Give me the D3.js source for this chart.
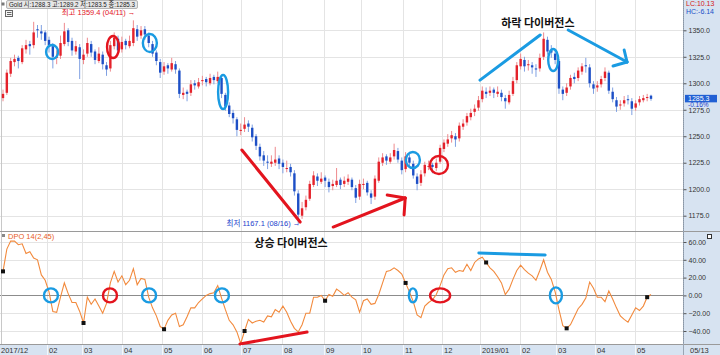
<!DOCTYPE html>
<html>
<head>
<meta charset="utf-8">
<script src="https://cdn.jsdelivr.net/npm/d3@7"></script>
<style>
  body { margin: 0; background: #fff; }
  svg { display: block; font-family: "Liberation Sans", "Noto Sans CJK KR", sans-serif; }
</style>
</head>
<body>
<div id="chart"></div>
<script>
// Gold, roughly two trading days per candle, Dec 2017 .. May 13 2019
const opens = [
  1286,1291,1309,1320,1324,1320,1332,1337,1336,1351,
  1349,1348,1341,1335,1324,1326,1337,1350,1340,1330,
  1334,1322,1328,1337,1330,1321,1327,1317,1314,1335,
  1342,1332,1340,1335,1338,1351,1345,1351,1345,1337,
  1329,1320,1311,1317,1313,1318,1312,1289,1292,1291,
  1300,1297,1302,1304,1300,1306,1302,1305,1289,1279,
  1272,1266,1255,1257,1262,1258,1250,1240,1232,1226,
  1224,1225,1229,1225,1220,1221,1215,1196,1175,1183,
  1191,1204,1212,1207,1211,1207,1203,1204,1209,1205,
  1207,1209,1201,1193,1204,1206,1196,1193,1208,1225,
  1231,1226,1231,1236,1227,1219,1230,1224,1212,1206,
  1215,1222,1223,1220,1226,1238,1243,1248,1250,1248,
  1259,1263,1268,1273,1277,1285,1292,1291,1294,1290,
  1291,1286,1282,1290,1303,1316,1322,1317,1317,1314,
  1314,1325,1341,1331,1328,1321,1294,1291,1297,1306,
  1305,1311,1317,1315,1299,1296,1299,1305,1310,1292,
  1284,1279,1281,1285,1283,1277,1282,1284,1287,1288.3
];
const highs = [
  1294,1313,1324,1327,1326,1336,1341,1340,1358,1355,
  1355,1350,1344,1338,1331,1345,1357,1352,1343,1340,
  1337,1332,1343,1340,1332,1334,1330,1320,1340,1348,
  1345,1344,1342,1345,1359.4,1355,1354,1354,1348,1340,
  1331,1323,1320,1319,1324,1321,1314,1296,1294,1303,
  1303,1305,1307,1306,1309,1308,1311,1307,1291,1282,
  1275,1268,1262,1268,1265,1261,1252,1243,1236,1232,
  1232,1240,1232,1228,1227,1224,1218,1199,1188,1194,
  1208,1217,1215,1216,1213,1210,1209,1220,1211,1212,
  1214,1211,1204,1209,1210,1208,1199,1213,1230,1234,
  1233,1234,1243,1239,1230,1235,1233,1227,1215,1218,
  1226,1227,1225,1229,1242,1247,1252,1255,1253,1263,
  1266,1272,1276,1280,1288,1297,1296,1297,1296,1297,
  1294,1289,1293,1306,1320,1328,1325,1322,1320,1318,
  1328,1348,1344,1336,1332,1323,1297,1300,1308,1310,
  1315,1319,1324,1318,1302,1302,1307,1315,1312,1296,
  1287,1284,1288,1289,1286,1284,1288,1289,1290,1289.2
];
const lows = [
  1283,1289,1306,1316,1314,1318,1328,1327,1333,1343,
  1341,1336,1329,1314,1318,1323,1335,1335,1326,1327,
  1304,1318,1325,1325,1318,1319,1313,1307,1311,1332,
  1328,1329,1332,1333,1335,1340,1342,1341,1334,1325,
  1317,1305,1308,1309,1311,1309,1286,1285,1283,1288,
  1294,1295,1298,1297,1298,1299,1300,1286,1274,1268,
  1262,1250,1251,1254,1254,1245,1237,1227,1222,1219,
  1221,1222,1219,1215,1216,1212,1194,1167.1,1172,1180,
  1189,1202,1203,1205,1202,1197,1199,1202,1200,1202,
  1204,1199,1187,1190,1200,1194,1186,1190,1206,1222,
  1223,1224,1228,1225,1214,1216,1221,1210,1199,1203,
  1212,1218,1215,1217,1224,1235,1240,1244,1240,1245,
  1256,1260,1265,1269,1274,1282,1286,1288,1286,1287,
  1283,1276,1280,1288,1300,1313,1311,1312,1309,1306,
  1311,1322,1327,1324,1318,1290,1284,1288,1294,1300,
  1302,1308,1310,1296,1290,1292,1296,1302,1290,1282,
  1273,1275,1278,1280,1270,1274,1279,1282,1283,1283.5
];
const closes = [
  1290,1310,1321,1323,1321,1333,1336,1335,1348,1350,
  1347,1340,1336,1325,1325,1338,1349,1339,1331,1335,
  1323,1327,1338,1329,1322,1328,1318,1313,1336,1343,
  1331,1339,1336,1340,1352,1344,1350,1346,1338,1328,
  1321,1310,1316,1314,1319,1313,1290,1291,1290,1299,
  1298,1301,1303,1301,1305,1303,1306,1290,1278,1271,
  1267,1256,1256,1261,1259,1249,1241,1231,1227,1225,
  1226,1228,1224,1221,1220,1216,1198,1176,1182,1190,
  1205,1213,1208,1210,1208,1202,1205,1208,1204,1208,
  1210,1202,1192,1205,1205,1197,1192,1210,1226,1230,
  1227,1230,1237,1228,1218,1231,1225,1213,1205,1214,
  1223,1222,1221,1225,1239,1244,1247,1251,1247,1260,
  1262,1269,1272,1276,1284,1293,1290,1293,1291,1292,
  1287,1283,1289,1302,1317,1323,1316,1318,1315,1313,
  1324,1342,1330,1329,1322,1295,1290,1296,1305,1304,
  1312,1316,1316,1300,1295,1298,1304,1311,1293,1285,
  1278,1280,1284,1284,1276,1281,1285,1286,1287,1285.3
];
// DPO 14(2,45)
const dpo = [
  27,52,61,61,57,58,47,49,42,40,
  23,17,4,-18,-19,-2,14,2,-8,-8,
  -18,-31,-2,-10,-4,-12,-20,-9,14,27,
  15,22,12,17,30,12,19,18,-2,-14,
  -23,-35,-38,-28,-22,-20,-35,-33,-24,-14,
  -14,-8,-4,0,2,3,11,-3,-16,-28,
  -33,-41,-54,-40,-27,-31,-29,-28,-30,-23,
  -24,-16,-19,-12,-19,-29,-37,-41,-33,-20,
  -20,-2,-2,0,-6,1,-1,7,4,0,
  3,-2,-5,-19,-6,-4,-10,-9,1,14,
  27,28,31,28,24,14,4,-7,-22,-25,
  -12,-8,-5,1,11,23,30,31,26,28,
  27,35,28,37,41,43,37,31,27,21,
  14,1,7,18,28,34,29,25,22,17,
  28,40,26,18,4,-16,-34,-37,-33,-24,
  -15,-10,-3,15,8,-2,-2,-7,5,-4,
  -14,-23,-27,-30,-22,-14,-17,-12,-2,1
];
const dpoMarkerIdx = [0, 21, 42, 63, 84, 105, 126, 147, 168];

const priceTicks = [1175, 1200, 1225, 1250, 1275, 1300, 1325, 1350];
const dpoTicks = [-40, -20, 0, 20, 40, 60];
const monthLabels = ["2017/12","02","03","04","05","06","07","08","09","10","11","12","2019/01","02","03","04","05"];
const monthIdx = [0, 11.5, 20.6, 31.0, 41.5, 51.9, 62.1, 72.8, 83.7, 93.4, 104.3, 114.5, 124.4, 134.8, 144.2, 154.4, 164.8];

// hand-drawn marks, in [candle index, value] units
const priceRings = [[12.8,1329.5,"b"],[28.7,1334.2,"r"],[38.3,1338,"b"],[57.4,1291.7,"b"],[106.9,1227.6,"b"],[113.7,1222.9,"r"],[143.5,1322,"b"]];
const dpoRings = [[12.5,0,"b"],[27.9,0,"r"],[38.1,0,"b"],[57.1,0,"b"],[106.9,0,"b"],[114,0,"r"],[144.2,0,"b"]];
const priceStrokes = [
  [62.3,1237,77.5,1169,"r"],
  [86.1,1164.3,104.9,1191.7,"r"], [100.2,1194.5,104.9,1191.7,"r"], [104.6,1175.7,104.9,1191.7,"r"],
  [124.4,1303,140.1,1345.6,"b"],
  [147.4,1350.3,162.75,1320.1,"b"], [162.0,1331.4,162.75,1320.1,"b"], [159.1,1316.3,162.75,1320.1,"b"]
];
const dpoStrokes = [[61.8,-54.6,79.3,-41.1,"r"],[124.1,47.6,141.4,45.4,"b"]];

function createChart() {
  const W = 720, H = 355;
  const plotRight = 683;
  const pricePanel = { top: 0, bottom: 231 };
  const dpoPanel = { top: 232, bottom: 344 };
  const axisBg = "#d7e3f1";
  const markCol = { b: "#1a9be2", r: "#e3141e" };

  const svg = d3.select("#chart").append("svg")
    .attr("width", W).attr("height", H);

  const x = d3.scaleLinear().domain([0, closes.length - 1]).range([3, 651]);
  const y = d3.scaleLinear().domain([1175, 1350]).range([215.7, 30.3]);
  const yd = d3.scaleLinear().domain([-40, 60]).range([331, 242]);

  // backgrounds
  svg.append("rect").attr("x", plotRight).attr("y", 0).attr("width", W - plotRight).attr("height", H).attr("fill", axisBg);
  svg.append("rect").attr("x", 0).attr("y", 345).attr("width", plotRight).attr("height", H - 345).attr("fill", axisBg);

  // grid
  const grid = svg.append("g").attr("stroke", "#e4e4e4").attr("stroke-width", 1);
  grid.selectAll(".vg").data(monthIdx.slice(1)).join("line")
    .attr("x1", d => Math.round(x(d)) + 0.5).attr("x2", d => Math.round(x(d)) + 0.5)
    .attr("y1", 0).attr("y2", 344);
  grid.selectAll(".hg").data(priceTicks).join("line")
    .attr("x1", 0).attr("x2", plotRight)
    .attr("y1", d => Math.round(y(d)) + 0.5).attr("y2", d => Math.round(y(d)) + 0.5);
  grid.selectAll(".dg").data(dpoTicks.filter(d => d !== 0)).join("line")
    .attr("x1", 0).attr("x2", plotRight)
    .attr("y1", d => Math.round(yd(d)) + 0.5).attr("y2", d => Math.round(yd(d)) + 0.5);
  svg.append("line").attr("x1", 0).attr("x2", plotRight)
    .attr("y1", Math.round(yd(0)) + 0.5).attr("y2", Math.round(yd(0)) + 0.5)
    .attr("stroke", "#8c8c8c");

  // panel borders
  svg.append("line").attr("x1", 1.5).attr("x2", 1.5).attr("y1", 0).attr("y2", 345).attr("stroke", "#c8c8c8");
  [pricePanel.bottom, dpoPanel.bottom].forEach(v => {
    svg.append("line").attr("x1", 0).attr("x2", W).attr("y1", v + 0.5).attr("y2", v + 0.5).attr("stroke", "#9a9a9a");
  });
  svg.append("line").attr("x1", plotRight + 0.5).attr("x2", plotRight + 0.5).attr("y1", 0).attr("y2", H).attr("stroke", "#9aa6b4");

  // candles
  const candles = closes.map((c, i) => ({ i, o: opens[i], h: highs[i], l: lows[i], c }));
  const up = "#e4222b", down = "#1d4fc6";
  svg.append("g").selectAll("line").data(candles).join("line")
    .attr("x1", d => x(d.i)).attr("x2", d => x(d.i))
    .attr("y1", d => y(d.h)).attr("y2", d => y(d.l))
    .attr("stroke", d => d.c >= d.o ? "#ee8a8e" : "#7fa0e2")
    .attr("stroke-width", 1);
  svg.append("g").selectAll("rect").data(candles).join("rect")
    .attr("x", d => x(d.i) - 1.2).attr("width", 2.4)
    .attr("y", d => y(Math.max(d.o, d.c)))
    .attr("height", d => Math.max(1, Math.abs(y(d.o) - y(d.c))))
    .attr("fill", d => d.c >= d.o ? up : down);

  // DPO line + markers
  const line = d3.line().x((d, i) => x(i)).y(d => yd(d));
  svg.append("path").datum(dpo)
    .attr("fill", "none").attr("stroke", "#f28a3d").attr("stroke-width", 1.1)
    .attr("d", line);
  svg.selectAll(".mk").data(dpoMarkerIdx).join("rect")
    .attr("x", d => x(d) - 2).attr("y", d => yd(dpo[d]) - 2)
    .attr("width", 4).attr("height", 4).attr("fill", "#111");

  // annotations
  const ringSize = [[6,7],[6,11],[7,9],[5,17],[7,8],[9,9],[5,11]];
  svg.selectAll(".pr").data(priceRings).join("ellipse")
    .attr("cx", d => x(d[0])).attr("cy", d => y(d[1]))
    .attr("rx", (d, i) => ringSize[i][0]).attr("ry", (d, i) => ringSize[i][1])
    .attr("fill", "none").attr("stroke", d => markCol[d[2]]).attr("stroke-width", 2.4);
  const dpoRingSize = [[7,7],[7,7],[7,7],[7,7],[4,7],[10,7],[6,8]];
  svg.selectAll(".dr").data(dpoRings).join("ellipse")
    .attr("cx", d => x(d[0])).attr("cy", d => yd(d[1]))
    .attr("rx", (d, i) => dpoRingSize[i][0]).attr("ry", (d, i) => dpoRingSize[i][1])
    .attr("fill", "none").attr("stroke", d => markCol[d[2]]).attr("stroke-width", 2.4);
  svg.selectAll(".ps").data(priceStrokes).join("line")
    .attr("x1", d => x(d[0])).attr("y1", d => y(d[1]))
    .attr("x2", d => x(d[2])).attr("y2", d => y(d[3]))
    .attr("stroke", d => markCol[d[4]]).attr("stroke-width", 3).attr("stroke-linecap", "round");
  svg.selectAll(".ds").data(dpoStrokes).join("line")
    .attr("x1", d => x(d[0])).attr("y1", d => yd(d[1]))
    .attr("x2", d => x(d[2])).attr("y2", d => yd(d[3]))
    .attr("stroke", d => markCol[d[4]]).attr("stroke-width", 3).attr("stroke-linecap", "round");

  svg.append("text").attr("x", x(139.5)).attr("y", y(1350) - 3)
    .attr("text-anchor", "middle").attr("font-family", "Noto Sans CJK KR")
    .attr("font-weight", "bold").attr("font-size", 11).attr("fill", "#111")
    .text("하락 다이버전스");
  svg.append("text").attr("x", x(75.1)).attr("y", yd(60) + 5)
    .attr("text-anchor", "middle").attr("font-family", "Noto Sans CJK KR")
    .attr("font-weight", "bold").attr("font-size", 11).attr("fill", "#111")
    .text("상승 다이버전스");

  // extreme labels
  svg.append("text").attr("x", x(34) + 2).attr("y", y(1359.4) - 5)
    .attr("text-anchor", "end").attr("font-size", 7.5).attr("fill", "#e3141e")
    .text("최고 1359.4 (04/11) →");
  svg.append("text").attr("x", x(77) + 2).attr("y", y(1167.1) + 2)
    .attr("text-anchor", "end").attr("font-size", 7.5).attr("fill", "#2342cc")
    .text("최저 1167.1 (08/16) →");

  // header
  svg.append("rect").attr("x", 1.5).attr("y", 2.5).attr("width", 3).attr("height", 3).attr("fill", "#777");
  svg.append("rect").attr("x", 6.5).attr("y", 0.5).attr("width", 131).attr("height", 8)
    .attr("rx", 1.5).attr("fill", "#e6e6e6").attr("stroke", "#b4b4b4");
  svg.append("text").attr("x", 9).attr("y", 7).attr("font-size", 7.5).attr("fill", "#222")
    .attr("textLength", 126).attr("lengthAdjust", "spacingAndGlyphs")
    .text("Gold 시:1288.3 고:1289.2 저:1283.5 종:1285.3");
  const icon = svg.append("g").attr("transform", "translate(5,10)");
  icon.append("rect").attr("x", 0.5).attr("y", 0.5).attr("width", 7).attr("height", 6)
    .attr("fill", "#f4f4f4").attr("stroke", "#666");
  [2.5, 4.5].forEach(v => icon.append("line").attr("x1", 2).attr("x2", 6.5)
    .attr("y1", v).attr("y2", v).attr("stroke", "#666"));

  svg.append("rect").attr("x", 2).attr("y", 234).attr("width", 3).attr("height", 3).attr("fill", "#888");
  svg.append("text").attr("x", 8).attr("y", 239).attr("font-size", 7.5).attr("fill", "#e8601c")
    .text("DPO 14(2,45)");

  // right axes
  const axisStyle = g => {
    g.select(".domain").attr("stroke", "#8a96a6").attr("stroke-dasharray", "1,1");
    g.selectAll(".tick line").attr("stroke", "#555");
    g.selectAll(".tick text").attr("font-size", 7).attr("fill", "#333")
      .attr("font-family", "Liberation Sans");
  };
  svg.append("g").attr("transform", `translate(${plotRight + 0.5},0)`)
    .call(d3.axisRight(y).tickValues(priceTicks).tickSize(3).tickPadding(2).tickFormat(d3.format(".1f")))
    .call(axisStyle)
    .select(".domain").attr("d", `M0,0V${pricePanel.bottom}`);
  svg.append("g").attr("transform", `translate(${plotRight + 0.5},0)`)
    .call(d3.axisRight(yd).tickValues(dpoTicks).tickSize(3).tickPadding(2).tickFormat(d3.format(".2f")))
    .call(axisStyle)
    .select(".domain").attr("d", `M0,${dpoPanel.top}V${dpoPanel.bottom}`);

  const last = closes[closes.length - 1];
  svg.append("rect").attr("x", 685).attr("y", y(last) - 4).attr("width", 32).attr("height", 7.5)
    .attr("fill", "#2160d4");
  svg.append("text").attr("x", 688).attr("y", y(last) + 2.2).attr("font-size", 7).attr("fill", "#fff")
    .text(d3.format(".1f")(last));
  svg.append("text").attr("x", 688).attr("y", y(last) + 8.6).attr("font-size", 6.5).attr("fill", "#2342cc")
    .text("-0.16%");
  svg.append("text").attr("x", 686).attr("y", 6).attr("font-size", 7).attr("fill", "#d42020").text("LC:10.13");
  svg.append("text").attr("x", 686).attr("y", 13.5).attr("font-size", 7).attr("fill", "#2050c8").text("HC:-6.14");
  svg.append("rect").attr("x", 707.5).attr("y", 234.5).attr("width", 4).attr("height", 4)
    .attr("fill", "#fff").attr("stroke", "#333");

  // bottom date band
  svg.append("g").selectAll("line").data(monthIdx.slice(1)).join("line")
    .attr("x1", d => Math.round(x(d)) + 0.5).attr("x2", d => Math.round(x(d)) + 0.5)
    .attr("y1", 345).attr("y2", H).attr("stroke", "#f4f7fb");
  svg.append("g").selectAll("text").data(monthIdx).join("text")
    .attr("x", (d, i) => i === 0 ? 1 : Math.round(x(d)) + 2)
    .attr("y", 353).attr("font-size", 7.5).attr("fill", "#333")
    .text((d, i) => monthLabels[i]);
  svg.append("text").attr("x", 690).attr("y", 353).attr("font-size", 7.5).attr("fill", "#333").text("05/13");
}

createChart();
</script>
</body>
</html>
